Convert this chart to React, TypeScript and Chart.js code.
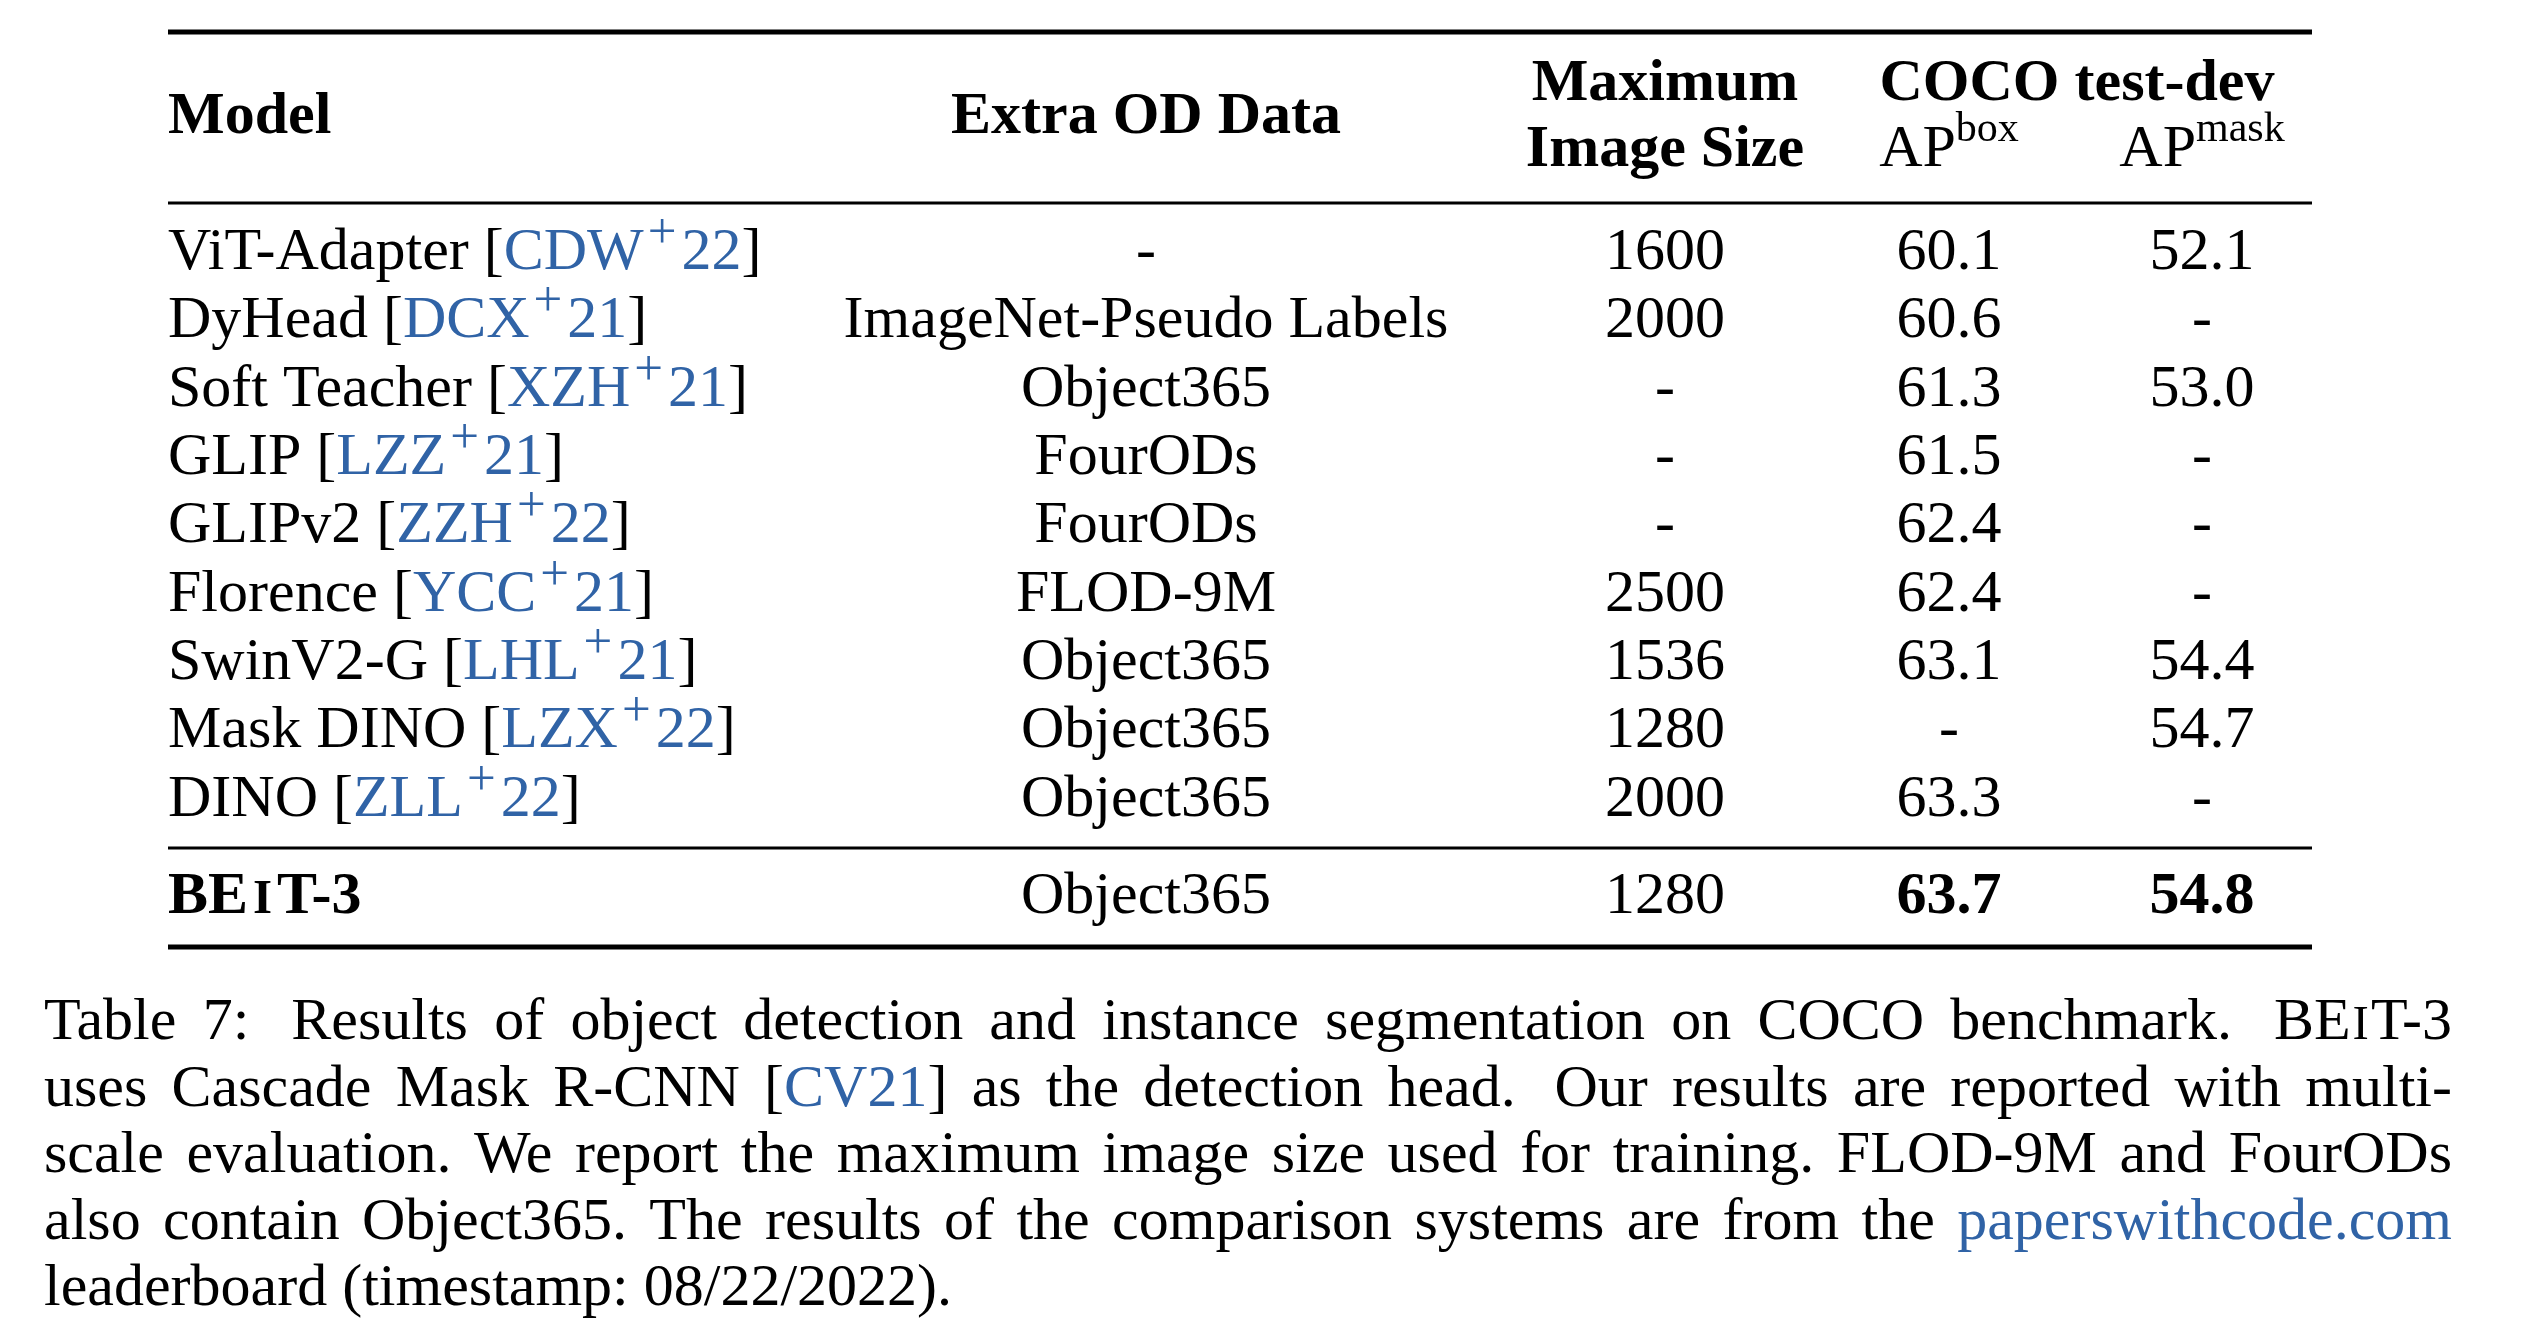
import React, { useEffect, useRef } from "react";
import { Chart, registerables } from "chart.js";

Chart.register(...registerables);

const W = 2530;
const H = 1340;

// ---------- data ----------
const models = ["ViT-Adapter", "DyHead", "Soft Teacher", "GLIP", "GLIPv2", "Florence", "SwinV2-G", "Mask DINO", "DINO"];
const citeKeys = ["CDW", "DCX", "XZH", "LZZ", "ZZH", "YCC", "LHL", "LZX", "ZLL"];
const citeYears = ["22", "21", "21", "21", "22", "21", "21", "22", "22"];
const extraData = ["-", "ImageNet-Pseudo Labels", "Object365", "FourODs", "FourODs", "FLOD-9M", "Object365", "Object365", "Object365"];
const maxImageSize: (number | null)[] = [1600, 2000, null, null, null, 2500, 1536, 1280, 2000];
const apBox: (number | null)[] = [60.1, 60.6, 61.3, 61.5, 62.4, 62.4, 63.1, null, 63.3];
const apMask: (number | null)[] = [52.1, null, 53.0, null, null, null, 54.4, 54.7, null];

const oursExtra = "Object365";
const oursSize = 1280;
const oursBox = 63.7;
const oursMask = 54.8;

const headerModel = "Model";
const headerExtra = "Extra OD Data";
const headerSize = ["Maximum", "Image Size"];
const headerCoco = "COCO test-dev";
const headerAp = ["box", "mask"];

const captionLines = [
  "Table 7:  Results of object detection and instance segmentation on COCO benchmark.  {BEIT}",
  "uses Cascade Mask R-CNN {CV21} as the detection head.  Our results are reported with multi-",
  "scale evaluation. We report the maximum image size used for training. FLOD-9M and FourODs",
  "also contain Object365. The results of the comparison systems are from the {PWC}",
  "leaderboard (timestamp: 08/22/2022).",
];

// ---------- layout ----------
const FONT = '"Liberation Serif", "Times New Roman", Times, serif';
const FS = 60;
const BLUE = "#3063a6";
const ROW0_PX = 269;
const ROW_PX = 68.35;
const X = { model: 168, extra: 1146, size: 1665, box: 1949, mask: 2202, coco: 2077, r0: 168, r1: 2312, c0: 44, c1: 2452 };
const pxToUnit = (px: number) => (px - ROW0_PX) / ROW_PX;
const Y = {
  topRule: pxToUnit(32),
  hdr1: pxToUnit(100),
  hdrMid: pxToUnit(133),
  hdr2: pxToUnit(166),
  hdrRule: pxToUnit(203),
  midRule: pxToUnit(848),
  ours: pxToUnit(913),
  botRule: pxToUnit(947),
  cap0: pxToUnit(1039),
  capStep: 66.5 / ROW_PX,
};

type Run = { text: string; bold?: boolean; scale?: number; rise?: number; color?: string; padL?: number; padR?: number };

const r = (text: string, o: Partial<Run> = {}): Run => ({ text, ...o });

function fontOf(run: Run) {
  return `${run.bold ? "bold " : ""}${Math.round(FS * (run.scale ?? 1))}px ${FONT}`;
}

function runWidth(ctx: CanvasRenderingContext2D, run: Run) {
  ctx.font = fontOf(run);
  return ctx.measureText(run.text).width + (run.padL ?? 0) + (run.padR ?? 0);
}

function measure(ctx: CanvasRenderingContext2D, runs: Run[]) {
  let w = 0;
  for (const run of runs) w += runWidth(ctx, run);
  return w;
}

function drawRuns(ctx: CanvasRenderingContext2D, runs: Run[], x: number, y: number, align: "left" | "center" | "right" = "left") {
  const w = measure(ctx, runs);
  let cx = align === "center" ? x - w / 2 : align === "right" ? x - w : x;
  ctx.textAlign = "left";
  ctx.textBaseline = "alphabetic";
  for (const run of runs) {
    const rw = runWidth(ctx, run);
    ctx.font = fontOf(run);
    ctx.fillStyle = run.color ?? "#000";
    ctx.fillText(run.text, cx + (run.padL ?? 0), y - (run.rise ?? 0));
    cx += rw;
  }
}

const SUP = { scale: 0.7, rise: 25 };
const PLUS = { scale: 0.85, rise: 21, padL: 4, padR: 5 };

function beit(bold: boolean): Run[] {
  return [r("BE", { bold }), r("I", { bold, scale: 0.82, padL: bold ? 5 : 2, padR: bold ? 5 : 2 }), r("T-3", { bold })];
}

function citeRuns(name: string, key: string, year: string): Run[] {
  return [r(name + " ["), r(key, { color: BLUE }), r("+", { color: BLUE, ...PLUS }), r(year, { color: BLUE }), r("]")];
}

function wordRuns(word: string): Run[] {
  if (word === "{BEIT}") return beit(false);
  if (word === "{CV21}") return [r("["), r("CV21", { color: BLUE }), r("]")];
  if (word === "{PWC}") return [r("paperswithcode.com", { color: BLUE })];
  return [r(word)];
}

function drawCaptionLine(ctx: CanvasRenderingContext2D, line: string, y: number, justify: boolean) {
  const parts = line.split(/( +)/).filter((p) => p.length > 0);
  const words: Run[][] = [];
  const gaps: number[] = [];
  for (const p of parts) {
    if (p.trim() === "") gaps.push(p.length > 1 ? 1.6 : 1);
    else words.push(wordRuns(p));
  }
  ctx.font = fontOf(r(" "));
  const space = ctx.measureText(" ").width;
  const widths = words.map((w) => measure(ctx, w));
  const total = widths.reduce((a, b) => a + b, 0);
  const gw = gaps.reduce((a, b) => a + b, 0);
  const unit = justify ? (X.c1 - X.c0 - total) / gw : space;
  let cx = X.c0;
  words.forEach((w, i) => {
    drawRuns(ctx, w, cx, y, "left");
    cx += widths[i] + (i < gaps.length ? gaps[i] * unit : 0);
  });
}

const fmt = (v: number | null, d: number) => (v === null ? "-" : v.toFixed(d));

const tablePlugin = {
  id: "tablePlugin",
  afterDraw(chart: any) {
    const ctx: CanvasRenderingContext2D = chart.ctx;
    const xs = chart.scales.x;
    const ys = chart.scales.y;
    const px = (v: number) => xs.getPixelForValue(v);
    const py = (v: number) => ys.getPixelForValue(v);
    ctx.save();

    const rule = (yv: number, thick: number) => {
      ctx.fillStyle = "#000";
      ctx.fillRect(px(X.r0), py(yv) - thick / 2, px(X.r1) - px(X.r0), thick);
    };
    rule(Y.topRule, 5);
    rule(Y.hdrRule, 3);
    rule(Y.midRule, 3);
    rule(Y.botRule, 5);

    // header
    drawRuns(ctx, [r(headerModel, { bold: true })], px(X.model), py(Y.hdrMid), "left");
    drawRuns(ctx, [r(headerExtra, { bold: true })], px(X.extra), py(Y.hdrMid), "center");
    drawRuns(ctx, [r(headerSize[0], { bold: true })], px(X.size), py(Y.hdr1), "center");
    drawRuns(ctx, [r(headerSize[1], { bold: true })], px(X.size), py(Y.hdr2), "center");
    drawRuns(ctx, [r(headerCoco, { bold: true })], px(X.coco), py(Y.hdr1), "center");
    drawRuns(ctx, [r("AP"), r(headerAp[0], SUP)], px(X.box), py(Y.hdr2), "center");
    drawRuns(ctx, [r("AP"), r(headerAp[1], SUP)], px(X.mask), py(Y.hdr2), "center");

    // body rows
    models.forEach((m, i) => {
      const y = py(i);
      drawRuns(ctx, citeRuns(m, citeKeys[i], citeYears[i]), px(X.model), y, "left");
      drawRuns(ctx, [r(extraData[i])], px(X.extra), y, "center");
      drawRuns(ctx, [r(fmt(maxImageSize[i], 0))], px(X.size), y, "center");
      drawRuns(ctx, [r(fmt(apBox[i], 1))], px(X.box), y, "center");
      drawRuns(ctx, [r(fmt(apMask[i], 1))], px(X.mask), y, "center");
    });

    // ours
    const yo = py(Y.ours);
    drawRuns(ctx, beit(true), px(X.model), yo, "left");
    drawRuns(ctx, [r(oursExtra)], px(X.extra), yo, "center");
    drawRuns(ctx, [r(String(oursSize))], px(X.size), yo, "center");
    drawRuns(ctx, [r(oursBox.toFixed(1), { bold: true })], px(X.box), yo, "center");
    drawRuns(ctx, [r(oursMask.toFixed(1), { bold: true })], px(X.mask), yo, "center");

    // caption
    captionLines.forEach((line, i) => {
      drawCaptionLine(ctx, line, py(Y.cap0 + i * Y.capStep), i < captionLines.length - 1);
    });

    ctx.restore();
  },
};

export default function App() {
  const ref = useRef<HTMLCanvasElement | null>(null);
  useEffect(() => {
    if (!ref.current) return;
    const chart = new Chart(ref.current, {
      type: "scatter",
      data: { datasets: [] },
      options: {
        animation: false,
        responsive: false,
        maintainAspectRatio: false,
        devicePixelRatio: 1,
        layout: { padding: 0 },
        plugins: { legend: { display: false }, tooltip: { enabled: false } },
        scales: {
          x: { type: "linear", display: false, min: 0, max: W },
          y: { type: "linear", display: false, reverse: true, min: -ROW0_PX / ROW_PX, max: (H - ROW0_PX) / ROW_PX },
        },
      },
      plugins: [tablePlugin],
    });
    return () => chart.destroy();
  }, []);
  return (
    <div style={{ position: "absolute", left: 0, top: 0, width: W, height: H, background: "#fff" }}>
      <canvas ref={ref} width={W} height={H} style={{ display: "block", width: W, height: H }} />
    </div>
  );
}
